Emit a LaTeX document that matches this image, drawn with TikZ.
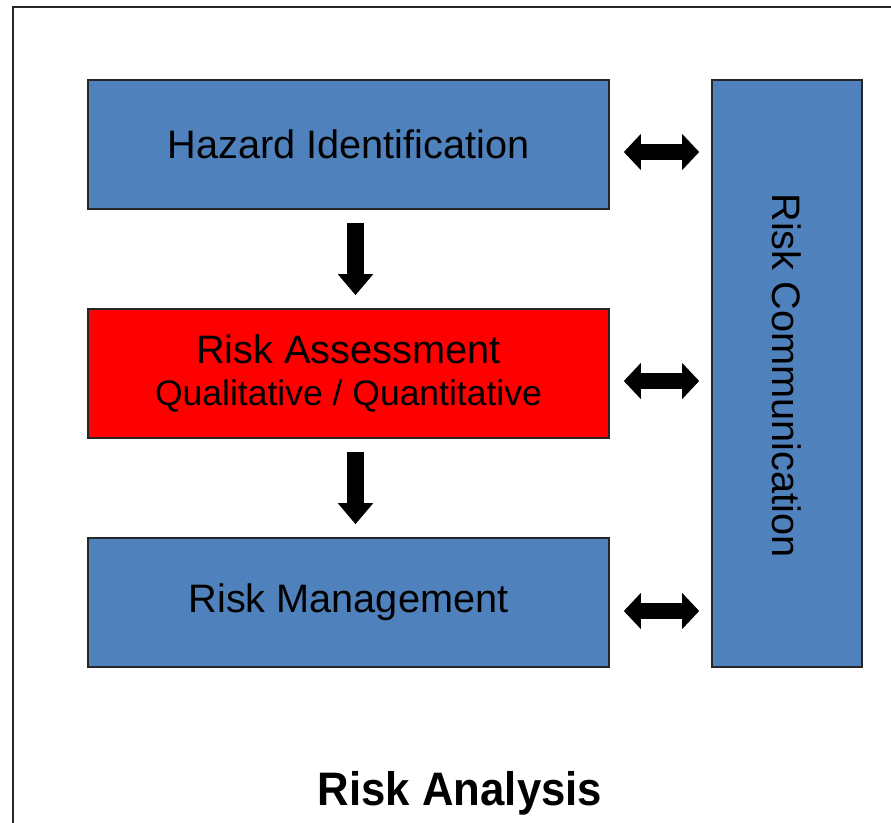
\documentclass[tikz,border=0pt]{standalone}
\usepackage{fontspec}
\setmainfont{Liberation Sans}
\usetikzlibrary{arrows.meta}
\definecolor{boxblue}{HTML}{4F81BD}
\definecolor{boxred}{HTML}{FF0000}
\begin{document}
\begin{tikzpicture}[x=1pt,y=-1pt,
  blk/.style={draw=black!85, line width=1.6pt, minimum width=521pt, minimum height=129pt, inner sep=0pt, fill=boxblue,
    font=\fontsize{39.7}{44}\selectfont, align=center},
  downarr/.style={line width=17pt, -{Triangle[length=21pt,width=34pt]}, shorten <=13pt, shorten >=13pt},
  dblarr/.style={line width=16pt, {Triangle[length=17pt,width=35pt]}-{Triangle[length=17pt,width=35pt]}, shorten <=14pt, shorten >=12pt}
]
\useasboundingbox (0,0) rectangle (891,822);
\fill[white] (0,0) rectangle (891,822);
\draw[line width=2pt, black!85] (13,840) -- (13,7) -- (910,7);

\node[blk] (hz) at (348.5,144.5) {Hazard Identification};
\node[blk, fill=boxred] (ra) at (348.5,373.5) {Risk Assessment\\[-2pt]{\fontsize{35.5}{44}\selectfont Qualitative / Quantitative}};
\node[blk] (rm) at (348.5,602.5) {Risk Management};
\node[blk, minimum width=150pt, minimum height=587pt] (comm) at (787,373.5) {};
\node[rotate=-90, font=\fontsize{39.7}{44}\selectfont] (commtxt) at (787,375.5) {Risk Communication};

\draw[downarr] (hz.south -| 355.5,0) -- (ra.north -| 355.5,0);
\draw[downarr] (ra.south -| 355.5,0) -- (rm.north -| 355.5,0);

\draw[dblarr] ([yshift=-7.5pt]hz.east) -- ([yshift=-7.5pt]hz.east -| comm.west);
\draw[dblarr] ([yshift=-7.5pt]ra.east) -- ([yshift=-7.5pt]ra.east -| comm.west);
\draw[dblarr] ([yshift=-8.5pt]rm.east) -- ([yshift=-8.5pt]rm.east -| comm.west);

\node[anchor=base, font=\fontsize{47}{50}\selectfont\bfseries, inner sep=0pt, xscale=0.93] (title) at (460,805) {Risk Analysis};
\end{tikzpicture}
\end{document}
